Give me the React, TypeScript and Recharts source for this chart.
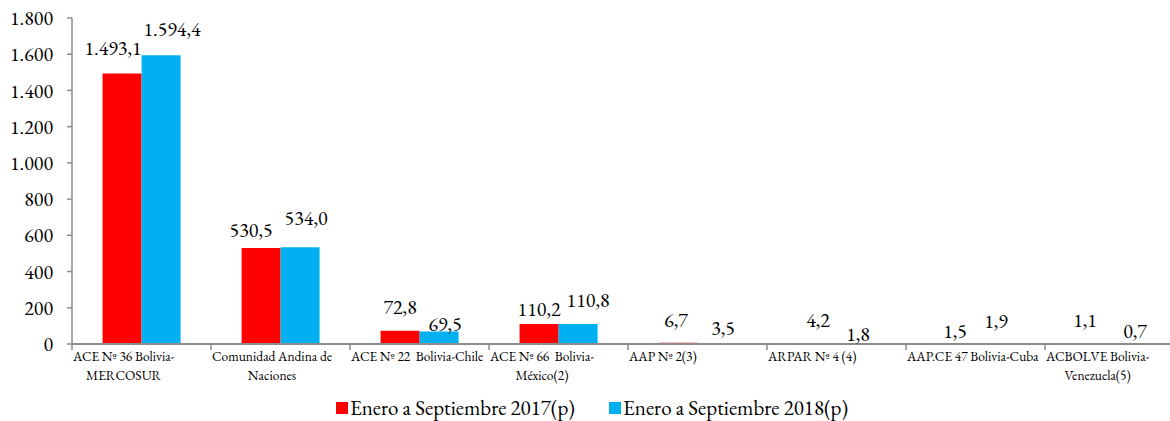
import React from 'react';
import { BarChart, Bar, XAxis, YAxis, Legend, LabelList } from 'recharts';

// ---------- data ----------
const categories: string[] = [
  'ACE Nº 36 Bolivia-\nMERCOSUR',
  'Comunidad Andina de\nNaciones',
  'ACE Nº 22  Bolivia-Chile',
  'ACE Nº 66  Bolivia-\nMéxico(2)',
  'AAP Nº 2(3)',
  'ARPAR Nº 4 (4)',
  'AAP.CE 47 Bolivia-Cuba',
  'ACBOLVE Bolivia-\nVenezuela(5)',
];
const series2017: number[] = [1493.1, 530.5, 72.8, 110.2, 6.7, 4.2, 1.5, 1.1];
const series2018: number[] = [1594.4, 534.0, 69.5, 110.8, 3.5, 1.8, 1.9, 0.7];
const yTicks: number[] = [0, 200, 400, 600, 800, 1000, 1200, 1400, 1600, 1800];
const seriesNames = ['Enero a Septiembre 2017(p)', 'Enero a Septiembre 2018(p)'];

// label nudges (style only: offset of label centre from bar-top centre, px)
const nudge2017: [number, number][] = [[-9, -26], [-10, -18], [0, -24], [0, -15], [-2, -23], [1, -23], [-1, -13], [-10, -24]];
const nudge2018: [number, number][] = [[11, -26], [6, -29], [6, -7], [10, -24], [6, -15], [2, -10], [1, -23], [1, -13]];

const data = categories.map((c, i) => ({ name: c, v2017: series2017[i], v2018: series2018[i] }));

// ---------- style ----------
const FONT = '"EB Garamond", "Liberation Serif", serif';
const RED = '#FF0000';
const BLUE = '#00B0F0';
const AXIS = '#8C8C8C';
const CHART_W = 1190;
const CHART_H = 421;
const MARGIN = { top: 18, right: 6, bottom: 0, left: 0 };
const YAXIS_W = 72;
const LABEL_SIZE = 20;
const LEGEND_SIZE = 21;
const X_FONT_SIZE = 13.5;

const fmt = (v: number) => {
  const [int, dec] = v.toFixed(1).split('.');
  return int.replace(/\B(?=(\d{3})+(?!\d))/g, '.') + ',' + dec;
};
const fmtInt = (v: number) => String(v).replace(/\B(?=(\d{3})+(?!\d))/g, '.');

let ctx: CanvasRenderingContext2D | null = null;
const measure = (s: string, font: string) => {
  if (!ctx) {
    const c = document.createElement('canvas');
    ctx = c.getContext('2d');
  }
  if (!ctx) return s.length * 6;
  ctx.font = font;
  return ctx.measureText(s).width;
};

const XTick = (props: any) => {
  const { x, y, payload } = props;
  const plotW = CHART_W - MARGIN.left - MARGIN.right - YAXIS_W;
  const half = typeof payload?.offset === 'number' && payload.offset > 0 ? payload.offset : plotW / categories.length / 2;
  const left = x - half;
  const lines = String(payload.value).split('\n');
  const widths = lines.map((l) => measure(l, `${X_FONT_SIZE}px ${FONT}`));
  const maxW = Math.max(...widths);
  const cx = left + 1 + maxW / 2;
  return (
    <g>
      <line x1={left} x2={left} y1={y} y2={y + 6} stroke={AXIS} strokeWidth={1.5} />
      <text
        x={cx}
        textAnchor="middle"
        fontSize={X_FONT_SIZE}
        fontFamily={FONT}
        fill="#000"
        style={{ whiteSpace: 'pre' }}
      >
        {lines.map((l, i) => (
          <tspan key={i} x={cx} y={y + 17 + i * 19}>
            {l}
          </tspan>
        ))}
      </text>
    </g>
  );
};

const makeLabel = (nudges: [number, number][]) => (props: any) => {
  const { x, y, width, value, index } = props;
  const [dx, dy] = nudges[index] || [0, -17];
  return (
    <text
      x={Number(x) + Number(width) / 2 + dx}
      y={Number(y) + dy + 7}
      textAnchor="middle"
      fontSize={LABEL_SIZE}
      fontFamily={FONT}
      fill="#000"
    >
      {fmt(Number(value))}
    </text>
  );
};

const LegendContent = () => (
  <div
    style={{
      height: 26,
      display: 'flex',
      alignItems: 'center',
      justifyContent: 'center',
      fontFamily: FONT,
      fontSize: LEGEND_SIZE,
      lineHeight: '24px',
      color: '#000',
    }}
  >
    {[RED, BLUE].map((col, i) => (
      <div key={i} style={{ display: 'flex', alignItems: 'center', marginRight: i === 0 ? 34 : 0 }}>
        <span style={{ display: 'inline-block', width: 12, height: 12, background: col, marginRight: 2 }} />
        <span style={{ whiteSpace: 'nowrap' }}>{seriesNames[i]}</span>
      </div>
    ))}
  </div>
);

export default function App() {
  return (
    <div
      style={{
        position: 'fixed',
        left: 0,
        top: 0,
        width: 1170,
        height: CHART_H,
        overflow: 'hidden',
        background: '#fff',
        fontFamily: FONT,
      }}
    >
      <BarChart
        width={CHART_W}
        height={CHART_H}
        data={data}
        margin={MARGIN}
        barGap={0}
        barCategoryGap="22%"
        style={{ fontFamily: FONT }}
      >
        <YAxis
          width={YAXIS_W}
          domain={[0, 1800]}
          ticks={yTicks}
          interval={0}
          tickFormatter={fmtInt}
          tick={{ fontSize: LABEL_SIZE, fill: '#000', fontFamily: FONT }}
          tickSize={5}
          tickMargin={14}
          tickLine={{ stroke: AXIS, strokeWidth: 1.5 }}
          axisLine={{ stroke: AXIS, strokeWidth: 1.5 }}
        />
        <XAxis
          dataKey="name"
          height={51}
          interval={0}
          tickLine={false}
          tickSize={0}
          tickMargin={0}
          axisLine={{ stroke: AXIS, strokeWidth: 2 }}
          tick={<XTick />}
        />
        <Legend
          verticalAlign="bottom"
          align="center"
          height={26}
          wrapperStyle={{ height: 26 }}
          content={<LegendContent />}
        />
        <Bar dataKey="v2017" name={seriesNames[0]} fill={RED} isAnimationActive={false}>
          <LabelList dataKey="v2017" content={makeLabel(nudge2017)} />
        </Bar>
        <Bar dataKey="v2018" name={seriesNames[1]} fill={BLUE} isAnimationActive={false}>
          <LabelList dataKey="v2018" content={makeLabel(nudge2018)} />
        </Bar>
      </BarChart>
    </div>
  );
}
